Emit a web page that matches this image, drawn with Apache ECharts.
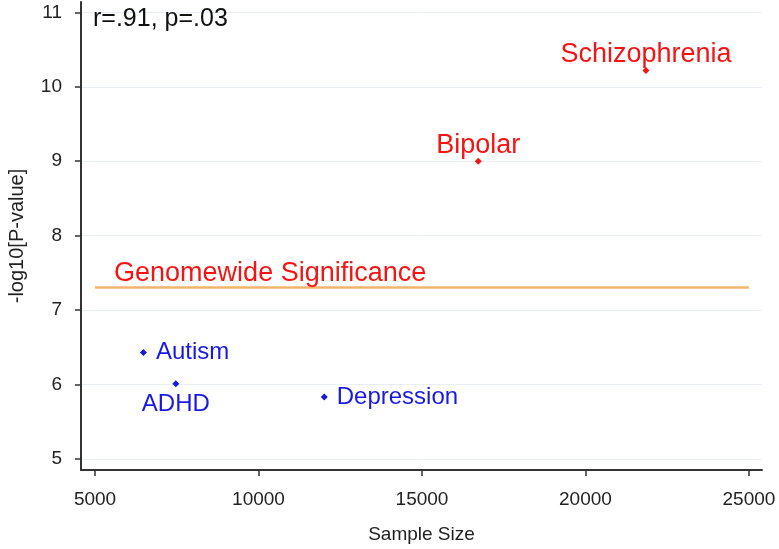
<!DOCTYPE html>
<html>
<head>
<meta charset="utf-8">
<script src="https://cdn.jsdelivr.net/npm/echarts@6/dist/echarts.min.js"></script>
<style>html,body{margin:0;padding:0;background:#fff}#c{width:779px;height:549px}</style>
</head>
<body>
<div id="c"></div>
<script>
// ---- data ----
const disorders = ['Schizophrenia', 'Bipolar', 'Autism', 'ADHD', 'Depression'];
const sampleSize = [21850, 16720, 6480, 7470, 12010];
const negLog10P = [10.22, 9.00, 6.43, 6.01, 5.83];
const xTicks = [5000, 10000, 15000, 20000, 25000];
const yTicks = [5, 6, 7, 8, 9, 10, 11];
const gwsThreshold = 7.3;
const gwsSpan = [5000, 25000];
const statText = 'r=.91, p=.03';

// ---- styling ----
const RED = '#f41414';
const BLUE = '#1818e4';
const labelPos = { Schizophrenia: 'top', Bipolar: 'top', Autism: 'right', ADHD: 'bottom', Depression: 'right' };
const FONT = 'Liberation Sans, Arial, sans-serif';

const points = disorders.map((name, i) => {
  const sig = negLog10P[i] >= gwsThreshold;
  const pos = labelPos[name];
  return {
    name,
    value: [sampleSize[i], negLog10P[i]],
    itemStyle: { color: sig ? RED : BLUE, opacity: 1 },
    label: {
      position: pos,
      color: sig ? RED : BLUE,
      fontSize: sig ? 27 : 24,
      distance: pos === 'right' ? 9 : (pos === 'top' ? -1 : 5)
    }
  };
});

const chart = echarts.init(document.getElementById('c'), null, { renderer: 'canvas' });
chart.setOption({
  animation: false,
  backgroundColor: '#fff',
  textStyle: { fontFamily: FONT },
  title: {
    text: statText, left: 88, top: 2,
    textStyle: { fontFamily: FONT, fontSize: 25, fontWeight: 'normal', color: '#111' }
  },
  grid: { left: 81, right: 17, top: 2, bottom: 79, containLabel: false, outerBoundsMode: 'none' },
  xAxis: {
    type: 'value', min: 4570, max: 25400,
    name: 'Sample Size', nameLocation: 'middle', nameGap: 55,
    nameTextStyle: { fontFamily: FONT, fontSize: 19, color: '#222' },
    axisLine: { show: true, onZero: false, lineStyle: { color: '#333', width: 2 } },
    axisTick: { show: true, length: 6, customValues: xTicks, lineStyle: { color: '#333', width: 1.5 } },
    axisLabel: { customValues: xTicks, margin: 20, fontSize: 19, color: '#222', fontFamily: FONT,
      formatter: v => String(v) },
    splitLine: { show: false }
  },
  yAxis: {
    type: 'value', min: 4.85, max: 11.14,
    name: '-log10[P-value]', nameLocation: 'middle', nameGap: 54, nameRotate: 90,
    nameTextStyle: { fontFamily: FONT, fontSize: 20, color: '#222' },
    axisLine: { show: true, onZero: false, lineStyle: { color: '#333', width: 2 } },
    axisTick: { show: true, length: 6, customValues: yTicks, lineStyle: { color: '#333', width: 1.5 } },
    axisLabel: { customValues: yTicks, margin: 19, fontSize: 19, color: '#222', fontFamily: FONT,
      formatter: v => String(v) },
    splitLine: { show: true, lineStyle: { color: '#e8eef3', width: 1 } }
  },
  series: [{
    type: 'scatter',
    symbol: 'diamond',
    symbolSize: 7,
    itemStyle: { opacity: 1 },
    data: points,
    label: {
      show: true,
      formatter: p => p.name,
      fontFamily: FONT
    },
    markLine: {
      silent: true,
      symbol: 'none',
      lineStyle: { color: '#f2b46c', width: 2.5, type: 'solid', opacity: 1 },
      label: {
        show: true,
        position: 'insideStartTop',
        formatter: 'Genomewide Significance',
        color: RED,
        fontSize: 27,
        fontFamily: FONT,
        distance: 1,
        padding: [0, 0, 0, 18]
      },
      data: [[{ coord: [gwsSpan[0], gwsThreshold] }, { coord: [gwsSpan[1], gwsThreshold] }]]
    }
  }]
});
</script>
</body>
</html>
